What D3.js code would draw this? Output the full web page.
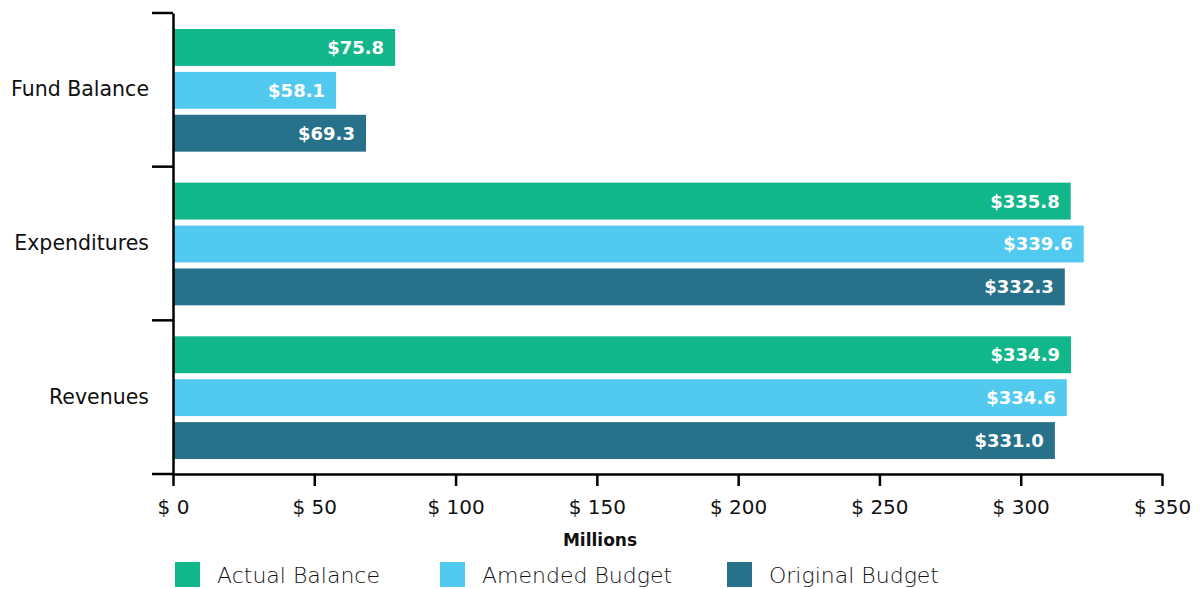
<!DOCTYPE html>
<html>
<head>
<meta charset="utf-8">
<script src="https://cdn.jsdelivr.net/npm/d3@7"></script>
<style>
  body { margin: 0; background: #fff; }
  text { font-family: "DejaVu Sans", sans-serif; }
</style>
</head>
<body>
<script>
// categories top to bottom
const categories = ["Fund Balance", "Expenditures", "Revenues"];
const seriesNames = ["Actual Balance", "Amended Budget", "Original Budget"];
const colors = ["#11b68a", "#52c9ee", "#28718a"];

// bar lengths as drawn (millions)
const actualBars = [78.6, 317.7, 317.8];
const amendedBars = [57.7, 322.3, 316.3];
const originalBars = [68.3, 315.6, 312.1];

// labels printed on the bars
const actualLabels = [75.8, 335.8, 334.9];
const amendedLabels = [58.1, 339.6, 334.6];
const originalLabels = [69.3, 332.3, 331.0];

const xTicks = [0, 50, 100, 150, 200, 250, 300, 350];

const width = 1202, height = 589;
const margin = {top: 13, right: 40, bottom: 115, left: 173};

const svg = d3.select("body").append("svg")
    .attr("width", width)
    .attr("height", height);

const x = d3.scaleLinear()
    .domain([0, 350])
    .range([margin.left, width - margin.right]);

const y = d3.scaleBand()
    .domain(categories)
    .range([margin.top, height - margin.bottom]);

const ySub = d3.scaleBand()
    .domain(seriesNames)
    .range([16, y.bandwidth() - 15])
    .paddingInner(0.14);

const bars = [actualBars, amendedBars, originalBars];
const labels = [actualLabels, amendedLabels, originalLabels];

const rows = [];
categories.forEach((c, i) => {
    seriesNames.forEach((s, j) => {
        rows.push({cat: c, series: s, color: colors[j], value: bars[j][i], label: labels[j][i]});
    });
});

const g = svg.append("g");
g.selectAll("rect")
    .data(rows)
    .enter().append("rect")
    .attr("x", x(0))
    .attr("y", d => y(d.cat) + ySub(d.series))
    .attr("width", d => x(d.value) - x(0))
    .attr("height", ySub.bandwidth())
    .attr("fill", d => d.color);

g.selectAll("text.val")
    .data(rows)
    .enter().append("text")
    .attr("class", "val")
    .attr("x", d => x(d.value) - 11)
    .attr("y", d => y(d.cat) + ySub(d.series) + ySub.bandwidth() / 2)
    .attr("dy", "0.36em")
    .attr("text-anchor", "end")
    .attr("fill", "#fff")
    .style("font-weight", "bold")
    .style("font-size", "18px")
    .text(d => "$" + d.label.toFixed(1));

// y axis
const yAxis = svg.append("g")
    .attr("transform", `translate(${margin.left},0)`)
    .call(d3.axisLeft(y).tickSize(0).tickPadding(24));
yAxis.select(".domain").attr("stroke", "#000").attr("stroke-width", 2.5);
yAxis.selectAll("text")
    .style("font-size", "20.5px")
    .attr("fill", "#111");
// ticks between categories
const yEdges = categories.map(c => y(c)).concat([y.range()[1]]);
svg.selectAll("line.ytick")
    .data(yEdges)
    .enter().append("line")
    .attr("x1", margin.left - 21).attr("x2", margin.left)
    .attr("y1", d => d).attr("y2", d => d)
    .attr("stroke", "#000").attr("stroke-width", 2.5);

// x axis
const xAxis = svg.append("g")
    .attr("transform", `translate(0,${height - margin.bottom})`)
    .call(d3.axisBottom(x).tickValues(xTicks).tickSize(12).tickSizeOuter(0).tickPadding(14)
        .tickFormat(d => "$ " + d));
xAxis.select(".domain").attr("stroke", "#000").attr("stroke-width", 2.5);
xAxis.selectAll(".tick line").attr("stroke", "#000").attr("stroke-width", 2.5);
xAxis.selectAll("text").style("font-size", "20px").attr("fill", "#111");

svg.append("text")
    .attr("x", 600)
    .attr("y", 546)
    .attr("text-anchor", "middle")
    .style("font-size", "17px")
    .style("font-weight", "bold")
    .attr("fill", "#111")
    .text("Millions");

// legend
const legendX = [175, 440, 727];
const legend = svg.selectAll("g.leg")
    .data(seriesNames)
    .enter().append("g")
    .attr("transform", (d, i) => `translate(${legendX[i]},562)`);
legend.append("rect")
    .attr("width", 25).attr("height", 25)
    .attr("fill", (d, i) => colors[i]);
legend.append("text")
    .attr("x", 42).attr("y", 13).attr("dy", "0.36em")
    .style("font-size", "22px")
    .style("font-weight", "200")
    .attr("fill", "#111")
    .text(d => d);
</script>
</body>
</html>
